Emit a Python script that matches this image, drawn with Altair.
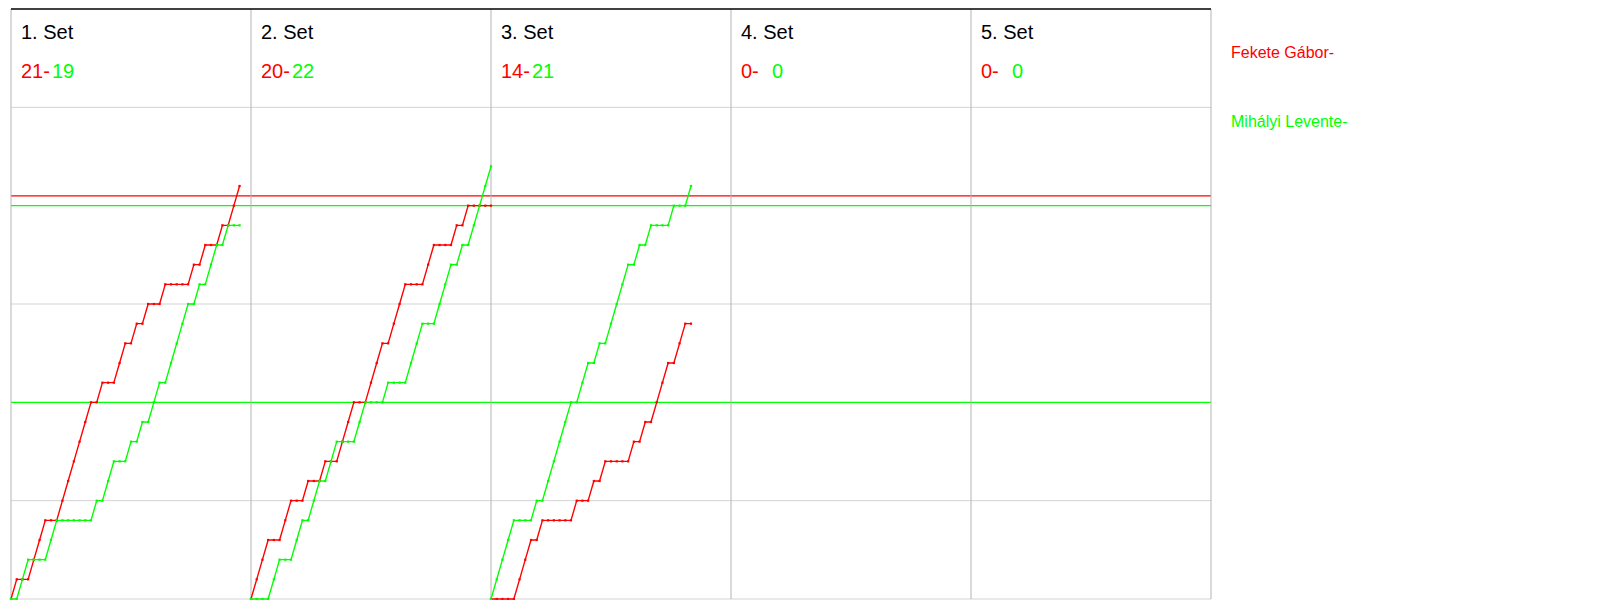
import altair as alt
import pandas as pd

# ---------------- data ----------------
player_red = "Fekete Gábor"
player_green = "Mihályi Levente"

set_labels = ["1. Set", "2. Set", "3. Set", "4. Set", "5. Set"]
final_red = [21, 20, 14, 0, 0]
final_green = [19, 22, 21, 0, 0]

# running score after each rally (index 0 = start of set)
set1_red = [0, 1, 1, 1, 2, 3, 4, 4, 4, 5, 6, 7, 8, 9, 10, 10, 11, 11, 11, 12, 13,
            13, 14, 14, 15, 15, 15, 16, 16, 16, 16, 16, 17, 17, 18, 18, 18, 19, 19, 20, 21]
set1_green = [0, 0, 1, 2, 2, 2, 2, 3, 4, 4, 4, 4, 4, 4, 4, 5, 5, 6, 7, 7, 7,
              8, 8, 9, 9, 10, 11, 11, 12, 13, 14, 15, 15, 16, 16, 17, 18, 18, 19, 19, 19]
set2_red = [0, 1, 2, 3, 3, 3, 4, 5, 5, 5, 6, 6, 6, 7, 7, 7, 8, 9, 10, 10, 10,
            11, 12, 13, 13, 14, 15, 16, 16, 16, 16, 17, 18, 18, 18, 18, 19, 19, 20, 20, 20, 20, 20]
set2_green = [0, 0, 0, 0, 1, 2, 2, 2, 3, 4, 4, 5, 6, 6, 7, 8, 8, 8, 8, 9, 10,
              10, 10, 10, 11, 11, 11, 11, 12, 13, 14, 14, 14, 15, 16, 17, 17, 18, 18, 19, 20, 21, 22]
set3_red = [0, 0, 0, 0, 0, 1, 2, 3, 3, 4, 4, 4, 4, 4, 4, 5, 5, 5, 6, 6, 7,
            7, 7, 7, 7, 8, 8, 9, 9, 10, 11, 12, 12, 13, 14, 14]
set3_green = [0, 1, 2, 3, 4, 4, 4, 4, 5, 5, 6, 7, 8, 9, 10, 10, 11, 12, 12, 13, 13,
              14, 15, 16, 17, 17, 18, 18, 19, 19, 19, 19, 20, 20, 20, 21]

red_by_set = [set1_red, set2_red, set3_red]
green_by_set = [set1_green, set2_green, set3_green]

grid_scores = [0, 5, 15, 25]
green_marks = [10, 20]
red_marks = [20.5]

RALLY_SLOTS = 42      # rallies that fit in one set panel
N_SETS = 5
TOP = 30              # score value at top edge of the frame

RED = "#ff0000"
GREEN = "#00ff00"
FONT = "Liberation Sans"

# ---------------- tables ----------------
rows = []
for s, (rs, gs) in enumerate(zip(red_by_set, green_by_set), start=1):
    for i, v in enumerate(rs):
        rows.append({"set": s, "player": player_red, "rally": i, "score": v})
    for i, v in enumerate(gs):
        rows.append({"set": s, "player": player_green, "rally": i, "score": v})
lines_df = pd.DataFrame(rows)
lines_df["xpos"] = (lines_df["set"] - 1) * RALLY_SLOTS + lines_df["rally"]

panel_df = pd.DataFrame({
    "xpos": [(k) * RALLY_SLOTS for k in range(N_SETS)],
    "label": set_labels,
    "red": [f"{v}-" for v in final_red],
    "green": [str(v) for v in final_green],
})
vborder_df = pd.DataFrame({"x": [k * RALLY_SLOTS for k in range(N_SETS + 1)], "y0": 0, "y1": TOP})
grid_df = pd.DataFrame({"y": grid_scores, "x0": 0, "x1": N_SETS * RALLY_SLOTS})
top_df = pd.DataFrame({"y": [TOP], "x0": [0], "x1": [N_SETS * RALLY_SLOTS]})
gmark_df = pd.DataFrame({"y": green_marks, "x0": 0, "x1": N_SETS * RALLY_SLOTS})
rmark_df = pd.DataFrame({"y": red_marks, "x0": 0, "x1": N_SETS * RALLY_SLOTS})
legend_df = pd.DataFrame({
    "x": [N_SETS * RALLY_SLOTS] * 2,
    "y": [27.5, 24.0],
    "label": [player_red + "-", player_green + "-"],
    "player": [player_red, player_green],
})

xs = alt.Scale(domain=[0, N_SETS * RALLY_SLOTS], nice=False, zero=False)
ys = alt.Scale(domain=[0, TOP], nice=False, zero=False)
cs = alt.Scale(domain=[player_red, player_green], range=[RED, GREEN])

def X(f):
    return alt.X(f, type="quantitative", scale=xs, axis=None)

def Y(f):
    return alt.Y(f, type="quantitative", scale=ys, axis=None)

grid = alt.Chart(grid_df).mark_rule(color="#d3d3d3", strokeWidth=1).encode(
    x=X("x0"), x2="x1", y=Y("y"))
vborders = alt.Chart(vborder_df).mark_rule(color="#b4b4b4", strokeWidth=1).encode(
    x=X("x"), y=Y("y0"), y2="y1")
topline = alt.Chart(top_df).mark_rule(color="#000000", strokeWidth=1.5).encode(
    x=X("x0"), x2="x1", y=Y("y"))
gmarks = alt.Chart(gmark_df).mark_rule(color=GREEN, strokeWidth=1.2).encode(
    x=X("x0"), x2="x1", y=Y("y"))
rmarks = alt.Chart(rmark_df).mark_rule(color=RED, strokeWidth=1.2).encode(
    x=X("x0"), x2="x1", y=Y("y"))

lines = alt.Chart(lines_df).mark_line(strokeWidth=1.4, interpolate="linear").encode(
    x=X("xpos"), y=Y("score"),
    color=alt.Color("player:N", scale=cs, legend=None),
    detail="set:N",
)
dots = alt.Chart(lines_df).mark_square(size=5, opacity=1).encode(
    x=X("xpos"), y=Y("score"),
    color=alt.Color("player:N", scale=cs, legend=None),
)

titles = alt.Chart(panel_df).mark_text(
    align="left", baseline="alphabetic", dx=10, fontSize=20, font=FONT, color="#000000"
).encode(x=X("xpos"), y=alt.value(0)).encode(y=Y("ty")).transform_calculate(ty=str(28.5))
red_txt = alt.Chart(panel_df).mark_text(
    align="left", baseline="alphabetic", dx=10, fontSize=20, font=FONT, color=RED
).encode(x=X("xpos"), y=Y("ty"), text="red:N").transform_calculate(ty=str(26.5))
green_txt = alt.Chart(panel_df).mark_text(
    align="left", baseline="alphabetic", dx=41, fontSize=20, font=FONT, color=GREEN
).encode(x=X("xpos"), y=Y("ty"), text="green:N").transform_calculate(ty=str(26.5))
titles = titles.encode(text="label:N")

legend = alt.Chart(legend_df).mark_text(
    align="left", baseline="alphabetic", dx=20, fontSize=16, font=FONT
).encode(
    x=X("x"), y=Y("y"), text="label:N",
    color=alt.Color("player:N", scale=cs, legend=None),
)

chart = alt.layer(
    grid, gmarks, rmarks, vborders, topline, lines, dots, titles, red_txt, green_txt, legend
).properties(width=1200, height=590, padding=0).configure_view(strokeWidth=0)

chart.save("out.html", embed_options={"renderer": "svg", "actions": False})
